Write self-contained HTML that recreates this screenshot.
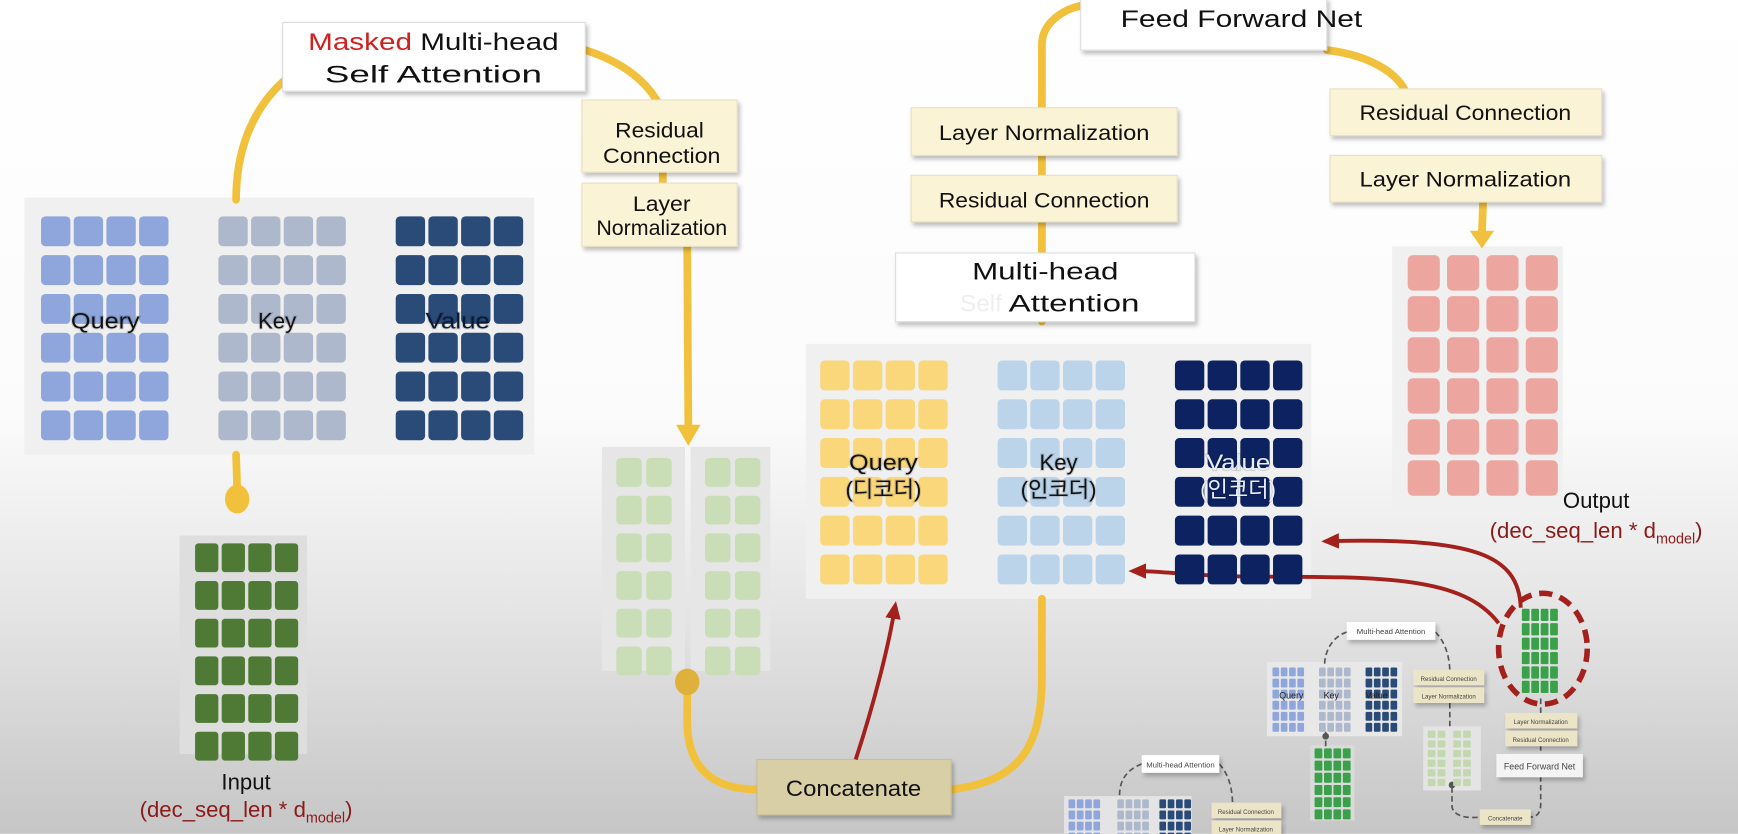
<!DOCTYPE html>
<html><head><meta charset="utf-8">
<style>
html,body{margin:0;padding:0;width:1738px;height:834px;overflow:hidden;}
svg{display:block;font-family:"Liberation Sans","Noto Sans CJK KR",sans-serif;}
</style></head>
<body>
<svg id="s" width="1738" height="834" viewBox="0 0 1568 752" xmlns="http://www.w3.org/2000/svg">
<defs>
<linearGradient id="bg" x1="0" y1="0" x2="0" y2="1">
<stop offset="0" stop-color="#ffffff"/><stop offset="0.5" stop-color="#fbfbfb"/><stop offset="0.72" stop-color="#e6e6e6"/><stop offset="1" stop-color="#c6c6c6"/>
</linearGradient>
<filter id="sh" x="-10%" y="-10%" width="130%" height="140%"><feDropShadow dx="2" dy="3" stdDeviation="2" flood-color="#000" flood-opacity="0.25"/></filter>
<marker id="ar" markerUnits="userSpaceOnUse" markerWidth="16" markerHeight="14" refX="8" refY="7" orient="auto"><path d="M0,0 L16,7 L0,14 z" fill="#a3201c"/></marker>
</defs>
<rect width="1568" height="752" fill="url(#bg)"/>
<g id="panels"></g>

<g fill="none" stroke="#f2c13c" stroke-width="7" stroke-linecap="round">
<path d="M257,72 C225,100 213,140 213,180"/>
<path d="M213,410 L214,442"/>
<path d="M528,45 C575,60 590,85 595,95"/>
<path d="M598,155 L598,165"/>
<path d="M620,222 L621,385"/>
<path d="M620,615 L620,650 C620,690 640,712 683,712"/>
<path d="M858,712 C915,705 940,680 940,610 L940,540"/>
<path d="M940,290 L940,40 C940,20 960,8 975,5"/>
<path d="M1197,45 C1240,50 1268,70 1270,90"/>
<path d="M1338,182 L1337,210"/>
</g>
<path d="M610,383 L632,383 L621,402 z" fill="#f2c13c"/>
<path d="M1326,208 L1348,208 L1337,224 z" fill="#f2c13c"/>
<ellipse cx="214" cy="450" rx="11" ry="13" fill="#f2c13c"/>
<ellipse cx="620" cy="615" rx="11" ry="12" fill="#e0b13a"/>

<g filter="url(#sh)">
<rect x="255" y="20" width="273" height="62" fill="#fff" stroke="#ddd"/>
<rect x="525" y="90" width="140" height="65" fill="#fbf3d5" stroke="#e8e0c0"/>
<rect x="525" y="165" width="140" height="57" fill="#fbf3d5" stroke="#e8e0c0"/>
<rect x="975" y="-2" width="222" height="47" fill="#fff" stroke="#ddd"/>
<rect x="822" y="97" width="240" height="43" fill="#fbf3d5" stroke="#e8e0c0"/>
<rect x="822" y="158" width="240" height="42" fill="#fbf3d5" stroke="#e8e0c0"/>
<rect x="808" y="228" width="270" height="62" fill="#fff" stroke="#ddd"/>
<rect x="1200" y="80" width="245" height="42" fill="#fbf3d5" stroke="#e8e0c0"/>
<rect x="1200" y="140" width="245" height="42" fill="#fbf3d5" stroke="#e8e0c0"/>
<rect x="683" y="685" width="175" height="50" fill="#d9cfa7" stroke="#c8bd93"/>
</g>
<g font-size="22" fill="#111" text-anchor="middle">
<text x="391" y="45" textLength="226" lengthAdjust="spacingAndGlyphs"><tspan fill="#d0201f">Masked</tspan> Multi-head</text>
<text x="391" y="74" textLength="196" lengthAdjust="spacingAndGlyphs">Self Attention</text>
<text x="595" y="124" font-size="19" textLength="80" lengthAdjust="spacingAndGlyphs">Residual</text>
<text x="597" y="147" font-size="19" textLength="106" lengthAdjust="spacingAndGlyphs">Connection</text>
<text x="597" y="190" font-size="19" textLength="52" lengthAdjust="spacingAndGlyphs">Layer</text>
<text x="597" y="212" font-size="19" textLength="118" lengthAdjust="spacingAndGlyphs">Normalization</text>
<text x="1120" y="24" textLength="218" lengthAdjust="spacingAndGlyphs">Feed Forward Net</text>
<text x="942" y="126" font-size="19" textLength="190" lengthAdjust="spacingAndGlyphs">Layer Normalization</text>
<text x="942" y="187" font-size="19" textLength="190" lengthAdjust="spacingAndGlyphs">Residual Connection</text>
<text x="943" y="252" textLength="132" lengthAdjust="spacingAndGlyphs">Multi-head</text>
<text x="885" y="281" fill="#eee">Self</text>
<text x="969" y="281" textLength="118" lengthAdjust="spacingAndGlyphs">Attention</text>
<text x="1322" y="108" font-size="19" textLength="191" lengthAdjust="spacingAndGlyphs">Residual Connection</text>
<text x="1322" y="168" font-size="19" textLength="191" lengthAdjust="spacingAndGlyphs">Layer Normalization</text>
<text x="770" y="718" font-size="20" textLength="122" lengthAdjust="spacingAndGlyphs">Concatenate</text>
</g>

<g fill="none" stroke="#a3201c" stroke-width="3.5">
<path d="M772,685 C790,630 802,580 807,550" marker-end="url(#ar)"/>
<path d="M1372,548 C1370,500 1330,485 1200,488" marker-end="url(#ar)"/>
<path d="M1352,562 C1320,520 1250,520 1130,520 C1080,520 1050,515 1026,515" marker-end="url(#ar)"/>
<ellipse cx="1392" cy="585" rx="40" ry="50" stroke-width="5" stroke-dasharray="12,7"/>
</g>

<g fill="none" stroke="#555" stroke-width="1.5" stroke-dasharray="5,3">
<path d="M1215,570 C1200,575 1195,590 1195,600"/>
<path d="M1295,570 C1305,580 1308,595 1308,606"/>
<path d="M1308,634 L1308,655"/>
<path d="M1196,660 L1196,675"/>
<path d="M1390,630 L1390,645"/><path d="M1390,672 L1390,682"/>
<path d="M1390,700 L1390,725 C1390,735 1385,737 1380,737"/>
<path d="M1310,710 L1310,728 C1312,737 1325,738 1335,737"/>
<path d="M1030,689 C1015,695 1010,705 1010,718"/>
<path d="M1100,689 C1110,700 1112,715 1112,726"/>
</g>
<g filter="url(#sh)" font-size="7" fill="#444" text-anchor="middle">
<rect x="1215" y="561" width="80" height="16" fill="#fff"/>
<rect x="1275" y="604" width="64" height="14" fill="#ece4c6"/>
<rect x="1275" y="620" width="64" height="14" fill="#ece4c6"/>
<rect x="1358" y="643" width="65" height="14" fill="#ece4c6"/>
<rect x="1358" y="659" width="65" height="14" fill="#ece4c6"/>
<rect x="1350" y="680" width="78" height="21" fill="#f4f4f4"/>
<rect x="1335" y="730" width="46" height="14" fill="#ece4c6"/>
<rect x="1030" y="681" width="70" height="16" fill="#fff"/>
<rect x="1093" y="724" width="63" height="14" fill="#ece4c6"/>
<rect x="1093" y="740" width="63" height="14" fill="#ece4c6"/>
</g>
<g font-size="7" fill="#444" text-anchor="middle">
<text x="1255" y="572">Multi-head Attention</text>
<text x="1307" y="614" font-size="5.5">Residual Connection</text>
<text x="1307" y="630" font-size="5.5">Layer Normalization</text>
<text x="1390" y="653" font-size="5.5">Layer Normalization</text>
<text x="1390" y="669" font-size="5.5">Residual Connection</text>
<text x="1389" y="694" font-size="8">Feed Forward Net</text>
<text x="1358" y="740" font-size="5.5">Concatenate</text>
<text x="1065" y="692">Multi-head Attention</text>
<text x="1124" y="734" font-size="5.5">Residual Connection</text>
<text x="1124" y="750" font-size="5.5">Layer Normalization</text>
</g>
<circle cx="1196" cy="664" r="3" fill="#555"/>
<circle cx="1310" cy="708" r="3" fill="#555"/>

<g id="cells"></g>

<g font-size="20" fill="#111" text-anchor="middle" style="paint-order:stroke" stroke="rgba(0,0,0,0.12)" stroke-width="2">
<text x="95" y="296" textLength="62" lengthAdjust="spacingAndGlyphs">Query</text>
<text x="250" y="296">Key</text>
<text x="413" y="296" fill="#0a1a33" textLength="58" lengthAdjust="spacingAndGlyphs">Value</text>
<text x="797" y="424" textLength="62" lengthAdjust="spacingAndGlyphs">Query</text>
<text x="797" y="448">(디코더)</text>
<text x="955" y="424">Key</text>
<text x="955" y="448">(인코더)</text>
<text x="1117" y="424" fill="#e8eef8" textLength="58" lengthAdjust="spacingAndGlyphs">Value</text>
<text x="1117" y="448" fill="#e8eef8">(인코더)</text>
</g>
<g font-size="8" fill="#222" text-anchor="middle">
<text x="1165" y="630">Query</text><text x="1201" y="630">Key</text><text x="1242" y="630">Value</text>
</g>
<g text-anchor="middle" font-size="20">
<text x="222" y="712" fill="#111">Input</text>
<text x="222" y="737" fill="#8b1a1a">(dec_seq_len * d<tspan font-size="13" dy="5">model</tspan><tspan dy="-5">)</tspan></text>
<text x="1440" y="458" fill="#111">Output</text>
<text x="1440" y="485" fill="#8b1a1a">(dec_seq_len * d<tspan font-size="13" dy="5">model</tspan><tspan dy="-5">)</tspan></text>
</g>
</svg>
<script>
var NS="http://www.w3.org/2000/svg";
var P=document.getElementById("panels"),C=document.getElementById("cells");
function r(g,x,y,w,h,f,rx){var e=document.createElementNS(NS,"rect");e.setAttribute("x",x);e.setAttribute("y",y);e.setAttribute("width",w);e.setAttribute("height",h);e.setAttribute("fill",f);if(rx)e.setAttribute("rx",rx);g.appendChild(e);}
function grid(x0,y0,cols,rows,cw,ch,gx,gy,f,rx){for(var i=0;i<rows;i++)for(var j=0;j<cols;j++)r(C,x0+j*(cw+gx),y0+i*(ch+gy),cw,ch,f,rx);}
r(P,22,178,460,232,"#f0f0f0");
r(P,162,483,115,197,"#dedede");
r(P,543,403,75,202,"#e6e6e6");r(P,623,403,72,202,"#e6e6e6");
r(P,727,310,456,230,"#f0f0f0");
r(P,1256,222,154,244,"#f0f0f0");
r(P,1143,597,122,67,"#e8e8e8");
r(P,1182,672,40,68,"#dadada");
r(P,1284,655,52,58,"#e4e4e4");
r(P,960,718,115,40,"#e4e4e4");
grid(37,195,4,6,26.5,27,3,8,"#8ea6dc",4);
grid(197,195,4,6,26.5,27,3,8,"#aeb8cc",4);
grid(357,195,4,6,26.5,27,3,8,"#2a4a78",4);
grid(176,490,4,6,21,26,3,8,"#4f7a35",3);
grid(556,413,2,6,23,26,4,8,"#c9deb6",4);
grid(636,413,2,6,23,26,4,8,"#c9deb6",4);
grid(740,325,4,6,26.5,27,3,8,"#f9d77a",4);
grid(900,325,4,6,26.5,27,3,8,"#bcd4ea",4);
grid(1060,325,4,6,26.5,27,3,8,"#0d2260",4);
grid(1270,230,4,6,29,32,6.5,5,"#eda5a0",5);
grid(1373,549,4,6,7,11,1.5,2,"#3aa14a",1);
grid(1148,602,4,6,6,8,1.5,2,"#8ea6dc",1);
grid(1190,602,4,6,6,8,1.5,2,"#aeb8cc",1);
grid(1232,602,4,6,6,8,1.5,2,"#2a4a78",1);
grid(1186,675,4,6,7,9,1.5,2,"#3aa14a",1);
grid(1288,659,2,6,7,6.5,2,2.2,"#c4d8b0",1);
grid(1311,659,2,6,7,6.5,2,2.2,"#c4d8b0",1);
grid(964,721,4,4,6,8,1.5,2,"#8ea6dc",1);
grid(1008,721,4,4,6,8,1.5,2,"#aeb8cc",1);
grid(1046,721,4,4,6,8,1.5,2,"#2a4a78",1);
</script>
</body></html>
